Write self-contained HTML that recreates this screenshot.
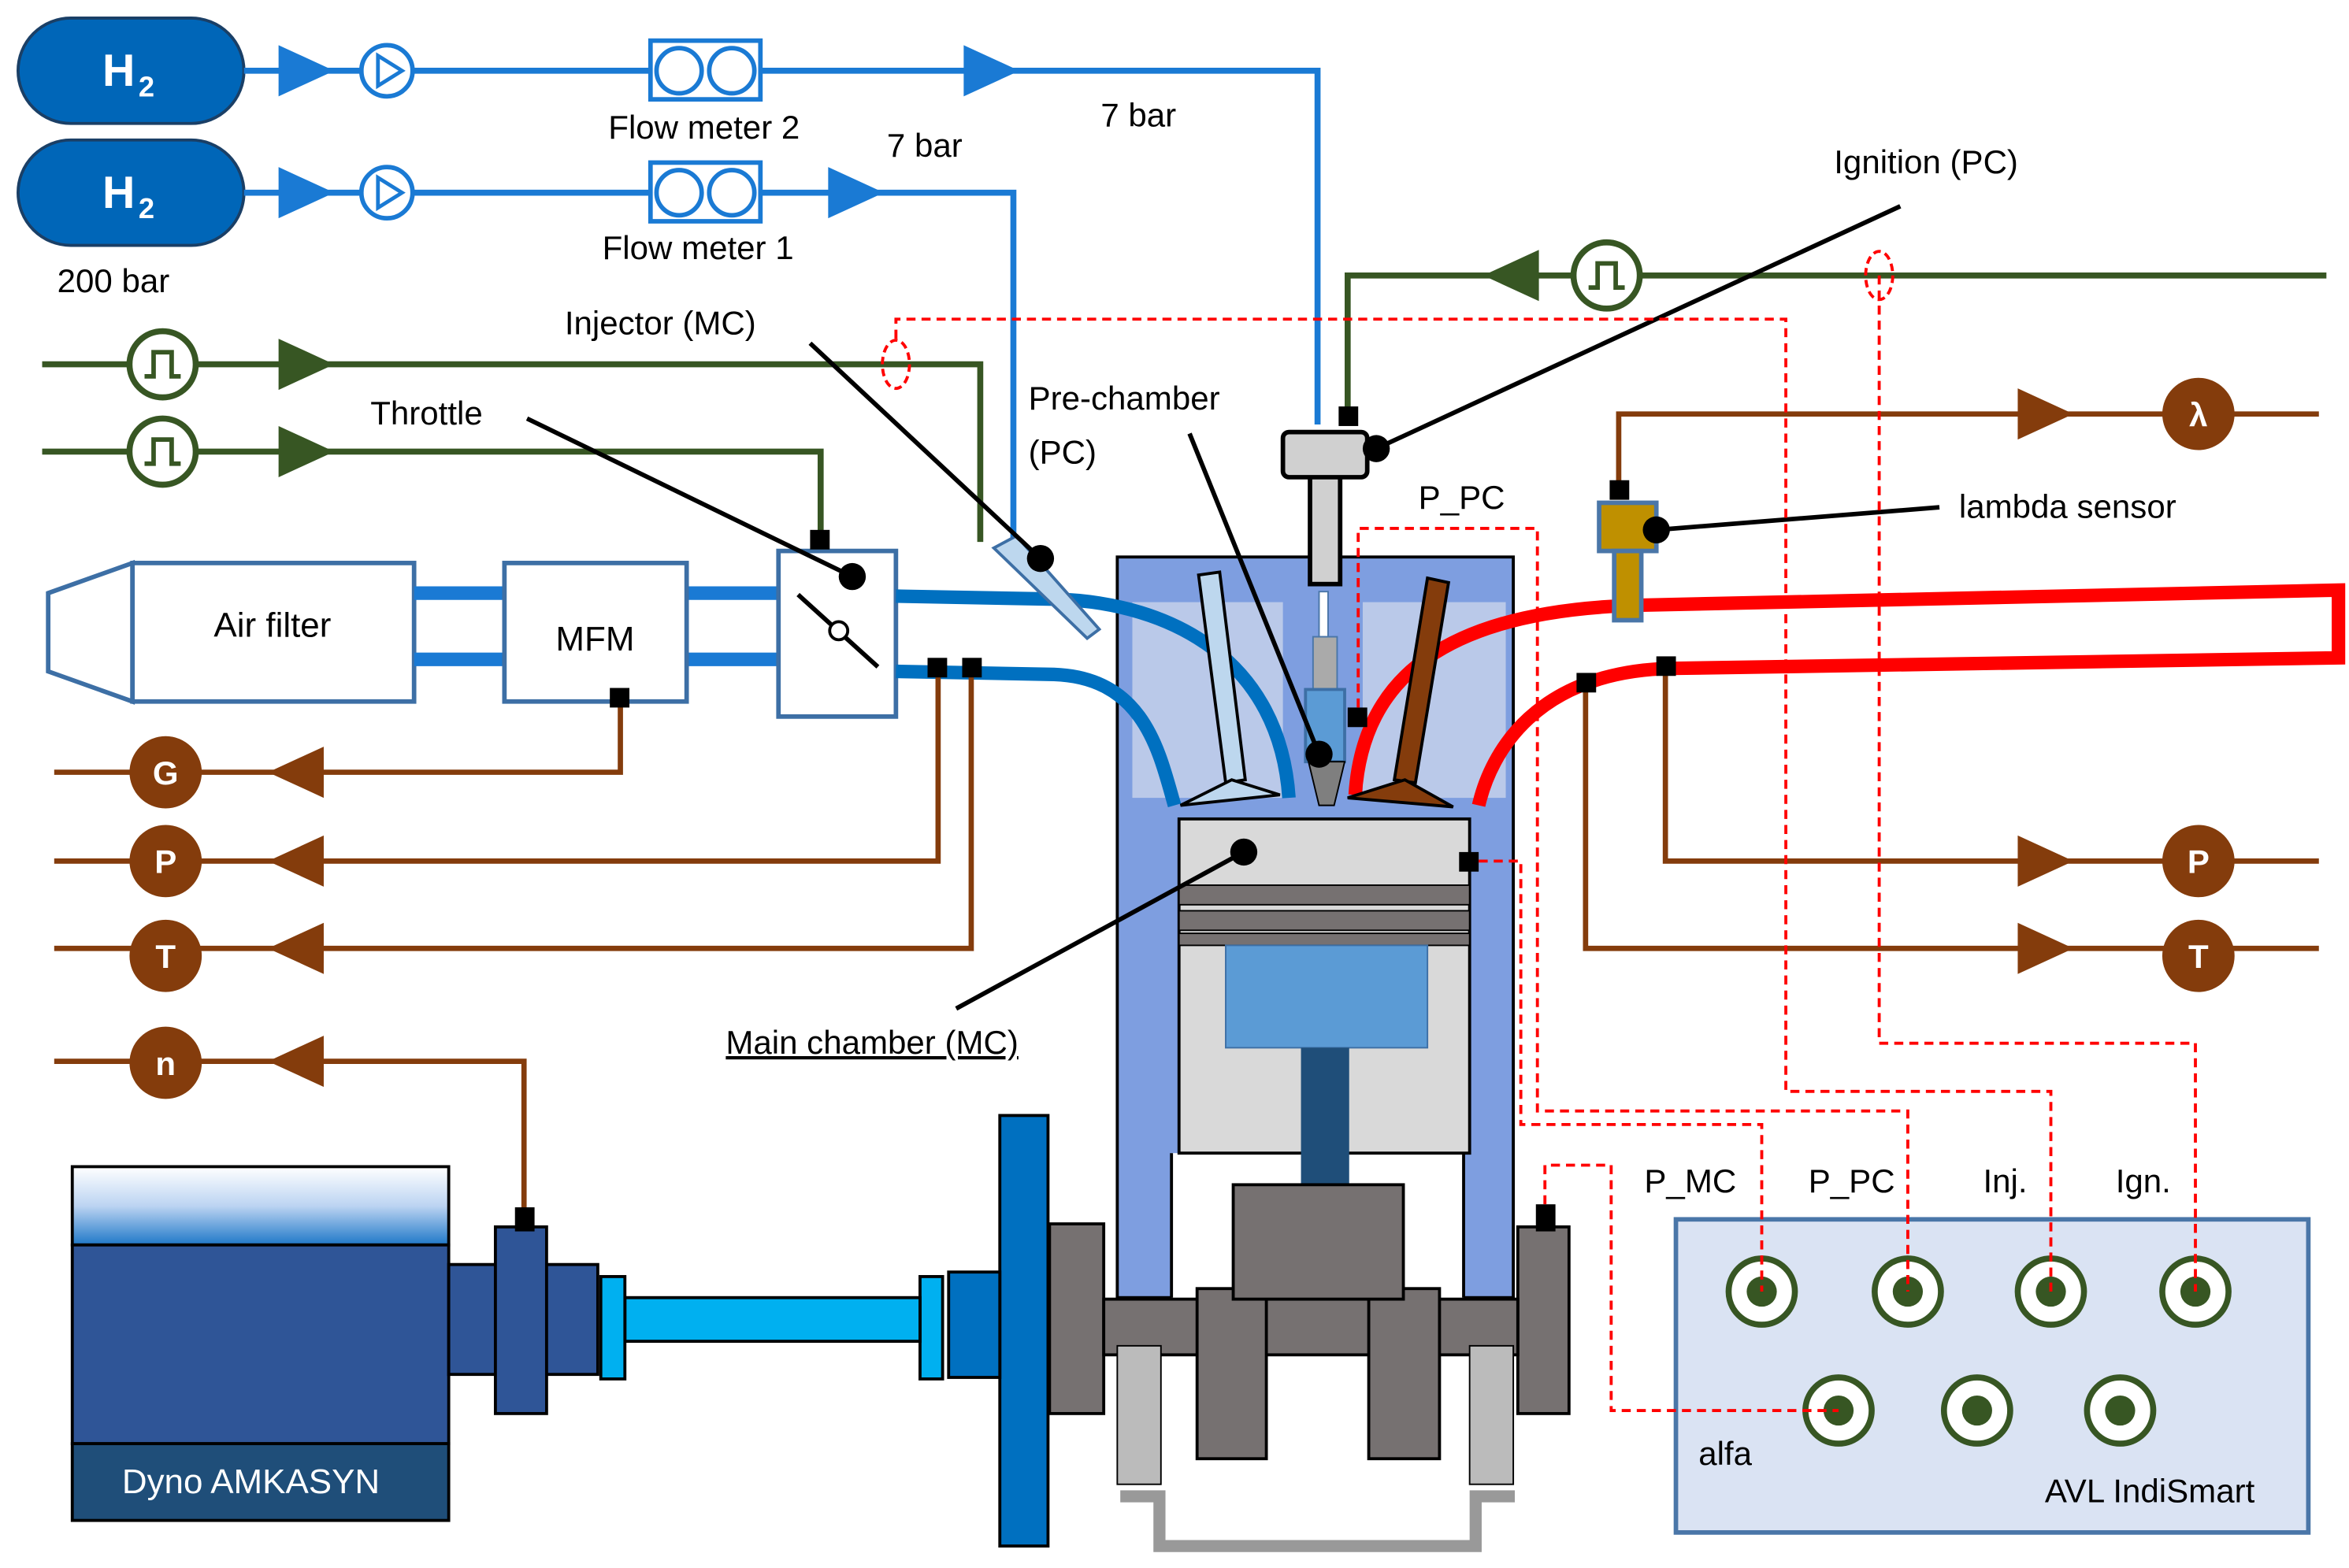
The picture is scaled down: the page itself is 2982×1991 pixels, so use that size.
<!DOCTYPE html>
<html><head><meta charset="utf-8"><style>
html,body{margin:0;padding:0;background:#fff;}
svg{display:block;}
text{font-family:"Liberation Sans",sans-serif;}
</style></head><body>
<svg width="2982" height="1991" viewBox="0 0 1560 1041.6" preserveAspectRatio="none" xmlns="http://www.w3.org/2000/svg">
<defs>
<linearGradient id="dg" x1="0" y1="0" x2="0" y2="1"><stop offset="0" stop-color="#fff"/><stop offset="0.5" stop-color="#bcd4f2"/><stop offset="1" stop-color="#1f78c8"/></linearGradient>
</defs>
<rect width="1560" height="1042" fill="#fff"/>

<!-- H2 tanks -->
<rect x="12" y="12" width="150" height="70" rx="35" fill="#0066b8" stroke="#1a3f66" stroke-width="2"/>
<rect x="12" y="93" width="150" height="70" rx="35" fill="#0066b8" stroke="#1a3f66" stroke-width="2"/>
<text x="68" y="57" font-size="30" font-weight="bold" fill="#fff">H</text><text x="92" y="64" font-size="19" font-weight="bold" fill="#fff">2</text>
<text x="68" y="138" font-size="30" font-weight="bold" fill="#fff">H</text><text x="92" y="145" font-size="19" font-weight="bold" fill="#fff">2</text>
<text x="38" y="194" font-size="22">200 bar</text>

<!-- blue H2 lines -->
<g stroke="#1a7ad4" stroke-width="4" fill="none">
<polyline points="162,47 875,47 875,282"/>
<polyline points="162,128 673,128 673,372"/>
</g>
<g fill="#1a7ad4">
<polygon points="185,30 222,47 185,64"/><polygon points="185,111 222,128 185,145"/>
<polygon points="640,30 677,47 640,64"/><polygon points="550,111 587,128 550,145"/>
</g>
<g stroke="#1a7ad4" stroke-width="3" fill="#fff">
<circle cx="257" cy="47" r="17"/><circle cx="257" cy="128" r="17"/>
<rect x="432" y="27" width="73" height="39"/><rect x="432" y="108" width="73" height="39"/>
<circle cx="451" cy="47" r="15"/><circle cx="486" cy="47" r="15"/>
<circle cx="451" cy="128" r="15"/><circle cx="486" cy="128" r="15"/>
</g>
<polygon points="251,37 251,57 267,47" fill="none" stroke="#1a7ad4" stroke-width="2.5"/>
<polygon points="251,118 251,138 267,128" fill="none" stroke="#1a7ad4" stroke-width="2.5"/>
<text x="404" y="92" font-size="22">Flow meter 2</text>
<text x="400" y="172" font-size="22">Flow meter 1</text>
<text x="731" y="84" font-size="22">7 bar</text>
<text x="589" y="104" font-size="22">7 bar</text>

<!-- green signal lines -->
<g stroke="#375623" stroke-width="4" fill="none">
<polyline points="28,242 651,242 651,360"/>
<polyline points="28,300 545,300 545,355"/>
<polyline points="1545,183 895,183 895,280"/>
</g>
<g fill="#375623">
<polygon points="185,225 222,242 185,259"/><polygon points="185,283 222,300 185,317"/>
<polygon points="1022,166 985,183 1022,200"/>
</g>
<g stroke="#375623" stroke-width="4" fill="#fff">
<circle cx="108" cy="242" r="22"/><circle cx="108" cy="300" r="22"/><circle cx="1067" cy="183" r="22"/>
</g>
<g stroke="#375623" stroke-width="3" fill="none">
<polyline points="96,250 102,250 102,234 114,234 114,250 120,250"/>
<polyline points="96,308 102,308 102,292 114,292 114,308 120,308"/>
<polyline points="1055,191 1061,191 1061,175 1073,175 1073,191 1079,191"/>
</g>

<!-- Air filter, MFM, throttle -->
<polygon points="32,394 88,374 88,466 32,446" fill="#fff" stroke="#3d6fa5" stroke-width="3"/>
<rect x="88" y="374" width="187" height="92" fill="#fff" stroke="#3d6fa5" stroke-width="3"/>
<text x="142" y="423" font-size="23">Air filter</text>
<g stroke="#1a7ad4" stroke-width="9"><line x1="275" y1="394" x2="335" y2="394"/><line x1="275" y1="438" x2="335" y2="438"/>
<line x1="456" y1="394" x2="517" y2="394"/><line x1="456" y1="438" x2="517" y2="438"/></g>
<rect x="335" y="374" width="121" height="92" fill="#fff" stroke="#3d6fa5" stroke-width="3"/>
<text x="369" y="432" font-size="23">MFM</text>
<rect x="517" y="366" width="78" height="110" fill="#fff" stroke="#3d6fa5" stroke-width="3"/>
<line x1="530" y1="395" x2="583" y2="443" stroke="#000" stroke-width="3"/>
<circle cx="557" cy="419" r="6" fill="#fff" stroke="#000" stroke-width="2"/>

<!-- engine block -->
<rect x="742" y="370" width="263" height="492" fill="#7e9ee0" stroke="#000" stroke-width="2"/>
<rect x="752" y="400" width="100" height="130" fill="#c4d0ea" opacity="0.85"/>
<rect x="905" y="400" width="95" height="130" fill="#c4d0ea" opacity="0.85"/>
<rect x="778" y="766" width="194" height="97" fill="#fff"/>
<line x1="778" y1="766" x2="778" y2="862" stroke="#000" stroke-width="2"/>
<line x1="972" y1="766" x2="972" y2="862" stroke="#000" stroke-width="2"/>
<!-- intake pipes -->
<g stroke="#0070c0" stroke-width="9" fill="none">
<path d="M595,396 L700,398 C780,400 850,440 856,530"/>
<path d="M595,446 L700,448 C760,450 770,500 780,535"/>
</g>
<!-- exhaust -->
<g stroke="#f00" stroke-width="9" fill="none">
<path d="M900,528 C905,450 960,405 1090,402 L1553,392 L1553,437 L1110,444 C1020,446 990,500 982,535"/>
</g>
<!-- valves -->
<polygon points="796,382 810,380 827,518 814,520" fill="#bdd7ee" stroke="#000" stroke-width="2"/>
<polygon points="818,518 850,528 784,535" fill="#bdd7ee" stroke="#000" stroke-width="2"/>
<polygon points="948,384 962,387 940,520 926,518" fill="#843c0c" stroke="#000" stroke-width="2"/>
<polygon points="933,518 965,536 895,530" fill="#843c0c" stroke="#000" stroke-width="2"/>
<!-- injector/spark -->
<rect x="870" y="300" width="20" height="88" fill="#d0d0d0" stroke="#000" stroke-width="3"/>
<rect x="852" y="287" width="56" height="30" rx="4" fill="#d0d0d0" stroke="#000" stroke-width="3"/>
<rect x="876" y="393" width="6" height="30" fill="#fff" stroke="#4a76a8"/>
<rect x="872" y="423" width="16" height="50" fill="#aaa" stroke="#4a76a8"/>
<rect x="867" y="458" width="26" height="48" fill="#5b9bd5" stroke="#3d6fa5" stroke-width="2"/>
<polygon points="869,506 893,506 886,535 876,535" fill="#7f7f7f" stroke="#000"/>
<!-- piston -->
<rect x="783" y="544" width="193" height="222" fill="#d9d9d9" stroke="#000" stroke-width="2"/>
<rect x="783" y="588" width="193" height="13" fill="#767171" stroke="#000"/>
<rect x="783" y="605" width="193" height="13" fill="#767171" stroke="#000"/>
<rect x="783" y="620" width="193" height="8" fill="#767171" stroke="#000"/>
<rect x="814" y="628" width="134" height="68" fill="#5b9bd5" stroke="#3d6fa5"/>
<rect x="864" y="696" width="32" height="92" fill="#1f4e79"/>
<!-- crank -->
<g fill="#767171" stroke="#000" stroke-width="2">
<rect x="697" y="813" width="36" height="126"/>
<rect x="1008" y="815" width="34" height="124"/>
<rect x="733" y="863" width="275" height="37"/>
<rect x="795" y="856" width="46" height="113"/>
<rect x="909" y="856" width="47" height="113"/>
<rect x="819" y="787" width="113" height="76"/>
</g>
<rect x="742" y="894" width="29" height="92" fill="#bbb" stroke="#000"/>
<rect x="976" y="894" width="29" height="92" fill="#bbb" stroke="#000"/>
<polyline points="744,994 770,994 770,1027 980,1027 980,994 1006,994" fill="none" stroke="#999" stroke-width="8"/>
<!-- flywheel + shaft -->
<rect x="664" y="741" width="32" height="286" fill="#0070c0" stroke="#000" stroke-width="2"/>
<rect x="630" y="845" width="34" height="70" fill="#0070c0" stroke="#000" stroke-width="2"/>
<rect x="611" y="848" width="15" height="68" fill="#00b0f0" stroke="#000" stroke-width="2"/>
<rect x="415" y="862" width="196" height="29" fill="#00b0f0" stroke="#000" stroke-width="2"/>
<rect x="399" y="848" width="16" height="68" fill="#00b0f0" stroke="#000" stroke-width="2"/>
<!-- dyno -->
<rect x="48" y="775" width="250" height="52" fill="url(#dg)" stroke="#000" stroke-width="2"/>
<rect x="48" y="827" width="250" height="132" fill="#2f5597" stroke="#000" stroke-width="2"/>
<rect x="48" y="959" width="250" height="51" fill="#1f4e79" stroke="#000" stroke-width="2"/>
<text x="81" y="992" font-size="23" fill="#fff">Dyno AMKASYN</text>
<rect x="298" y="840" width="31" height="73" fill="#2f5597" stroke="#000" stroke-width="2"/>
<rect x="329" y="815" width="34" height="124" fill="#2f5597" stroke="#000" stroke-width="2"/>
<rect x="363" y="840" width="34" height="73" fill="#2f5597" stroke="#000" stroke-width="2"/>

<!-- brown sensor lines -->
<g stroke="#843c0c" stroke-width="3.5" fill="none">
<polyline points="36,513 412,513 412,462"/>
<polyline points="36,572 623,572 623,442"/>
<polyline points="36,630 645,630 645,442"/>
<polyline points="36,705 348,705 348,808"/>
<polyline points="1075,325 1075,275 1540,275"/>
<polyline points="1106,442 1106,572 1540,572"/>
<polyline points="1053,453 1053,630 1540,630"/>
</g>
<g fill="#843c0c">
<polygon points="215,496 178,513 215,530"/><polygon points="215,555 178,572 215,589"/>
<polygon points="215,613 178,630 215,647"/><polygon points="215,688 178,705 215,722"/>
<polygon points="1340,258 1377,275 1340,292"/><polygon points="1340,555 1377,572 1340,589"/><polygon points="1340,613 1377,630 1340,647"/>
<circle cx="110" cy="513" r="24"/><circle cx="110" cy="572" r="24"/><circle cx="110" cy="635" r="24"/><circle cx="110" cy="706" r="24"/>
<circle cx="1460" cy="275" r="24"/><circle cx="1460" cy="572" r="24"/><circle cx="1460" cy="635" r="24"/>
</g>
<g fill="#fff" font-size="22" font-weight="bold" text-anchor="middle">
<text x="110" y="521">G</text><text x="110" y="580">P</text><text x="110" y="643">T</text><text x="110" y="714">n</text>
<text x="1460" y="283">λ</text><text x="1460" y="580">P</text><text x="1460" y="643">T</text>
</g>
<!-- lambda sensor -->
<rect x="1062" y="334" width="38" height="32" fill="#bf9000" stroke="#4a76a8" stroke-width="3"/>
<rect x="1072" y="366" width="18" height="46" fill="#bf9000" stroke="#4a76a8" stroke-width="3"/>

<!-- black squares -->
<g fill="#000">
<rect x="538" y="352" width="13" height="13"/><rect x="405" y="457" width="13" height="13"/>
<rect x="616" y="437" width="13" height="13"/><rect x="639" y="437" width="13" height="13"/>
<rect x="889" y="270" width="13" height="13"/><rect x="1069" y="319" width="13" height="13"/>
<rect x="1047" y="447" width="13" height="13"/><rect x="1100" y="436" width="13" height="13"/>
<rect x="895" y="470" width="13" height="13"/><rect x="969" y="566" width="13" height="13"/>
<rect x="342" y="802" width="13" height="16"/><rect x="1020" y="800" width="13" height="18"/>
</g>
<!-- injector MC -->
<polygon points="660,364 675,356 730,418 722,424" fill="#bdd7ee" stroke="#3d6fa5" stroke-width="2"/>

<!-- leader lines -->
<g stroke="#000" stroke-width="3">
<line x1="538" y1="228" x2="691" y2="371"/>
<line x1="350" y1="278" x2="566" y2="383"/>
<line x1="790" y1="288" x2="876" y2="501"/>
<line x1="1262" y1="137" x2="914" y2="298"/>
<line x1="1288" y1="337" x2="1100" y2="352"/>
<line x1="635" y1="670" x2="826" y2="566"/>
</g>
<g fill="#000">
<circle cx="691" cy="371" r="9"/><circle cx="566" cy="383" r="9"/><circle cx="876" cy="501" r="9"/>
<circle cx="914" cy="298" r="9"/><circle cx="1100" cy="352" r="9"/><circle cx="826" cy="566" r="9"/>
</g>
<g font-size="22">
<text x="375" y="222">Injector (MC)</text>
<text x="246" y="282">Throttle</text>
<text x="683" y="272">Pre-chamber</text>
<text x="683" y="308">(PC)</text>
<text x="1218" y="115">Ignition (PC)</text>
<text x="942" y="338">P_PC</text>
<text x="1301" y="344">lambda sensor</text>
<text x="482" y="700" text-decoration="underline">Main chamber (MC)</text>
</g>

<!-- AVL box -->
<rect x="1113" y="810" width="420" height="208" fill="#dae3f3" stroke="#4a76a8" stroke-width="3"/>
<g fill="#fff" stroke="#375623" stroke-width="4">
<circle cx="1170" cy="858" r="22"/><circle cx="1267" cy="858" r="22"/><circle cx="1362" cy="858" r="22"/><circle cx="1458" cy="858" r="22"/>
<circle cx="1221" cy="937" r="22"/><circle cx="1313" cy="937" r="22"/><circle cx="1408" cy="937" r="22"/>
</g>
<g fill="#375623">
<circle cx="1170" cy="858" r="10"/><circle cx="1267" cy="858" r="10"/><circle cx="1362" cy="858" r="10"/><circle cx="1458" cy="858" r="10"/>
<circle cx="1221" cy="937" r="10"/><circle cx="1313" cy="937" r="10"/><circle cx="1408" cy="937" r="10"/>
</g>
<g font-size="22">
<text x="1092" y="792">P_MC</text><text x="1201" y="792">P_PC</text><text x="1317" y="792">Inj.</text><text x="1405" y="792">Ign.</text>
<text x="1128" y="973">alfa</text><text x="1358" y="998">AVL IndiSmart</text>
</g>

<!-- red dashed -->
<g stroke="#f00" stroke-width="2" stroke-dasharray="6,4" fill="none">
<polyline points="902,470 902,351 1021,351 1021,738 1267,738 1267,858"/>
<polyline points="982,572 1010,572 1010,747 1170,747 1170,858"/>
<polyline points="595,225 595,212 1186,212 1186,725 1362,725 1362,858"/>
<polyline points="1248,183 1248,693 1458,693 1458,858"/>
<polyline points="1026,800 1026,774 1070,774 1070,937 1221,937"/>
</g>
<ellipse cx="595" cy="242" rx="9" ry="16" fill="none" stroke="#f00" stroke-width="2" stroke-dasharray="5,3"/>
<ellipse cx="1248" cy="183" rx="9" ry="16" fill="none" stroke="#f00" stroke-width="2" stroke-dasharray="5,3"/>
</svg>
</body></html>
